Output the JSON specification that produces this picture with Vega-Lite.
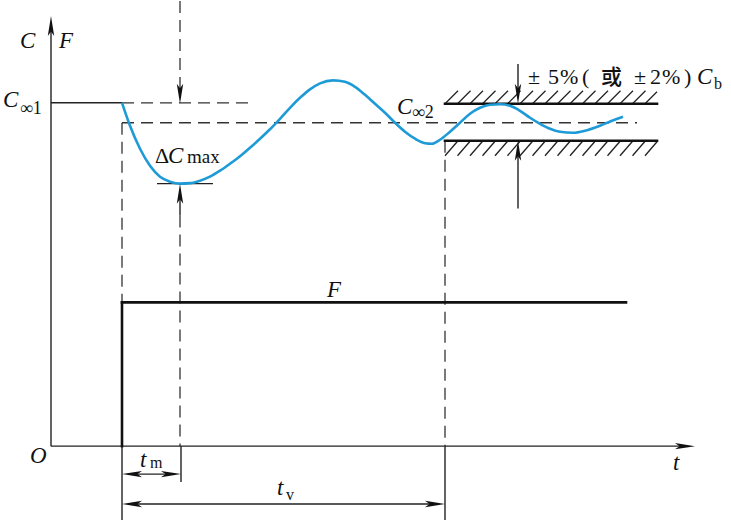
{
"$schema":"https://vega.github.io/schema/vega-lite/v6.json",
"width":731,"height":523,
"autosize":{"type":"fit","contains":"padding"},
"padding":0,
"background":"white",
"config":{"view":{"stroke":null}},
"datasets":{
"solid":[
{"x":51,"y":446,"x2":51,"y2":24},
{"x":51,"y":446,"x2":683,"y2":446},
{"x":51,"y":102,"x2":122,"y2":102},
{"x":157,"y":183,"x2":213,"y2":183},
{"x":180,"y":195,"x2":180,"y2":215},
{"x":518,"y":63,"x2":518,"y2":93},
{"x":518,"y":150,"x2":518,"y2":208},
{"x":122,"y":446,"x2":122,"y2":520},
{"x":181,"y":446,"x2":181,"y2":482},
{"x":445,"y":446,"x2":445,"y2":520},
{"x":130,"y":474,"x2":173,"y2":474},
{"x":130,"y":504,"x2":437,"y2":504}
],
"hatch":[
{"x":445,"y":103,"x2":458,"y2":90},{"x":457.5,"y":103,"x2":470.5,"y2":90},{"x":470,"y":103,"x2":483,"y2":90},{"x":482.5,"y":103,"x2":495.5,"y2":90},{"x":495,"y":103,"x2":508,"y2":90},{"x":507.5,"y":103,"x2":520.5,"y2":90},{"x":520,"y":103,"x2":533,"y2":90},{"x":532.5,"y":103,"x2":545.5,"y2":90},{"x":545,"y":103,"x2":558,"y2":90},{"x":557.5,"y":103,"x2":570.5,"y2":90},{"x":570,"y":103,"x2":583,"y2":90},{"x":582.5,"y":103,"x2":595.5,"y2":90},{"x":595,"y":103,"x2":608,"y2":90},{"x":607.5,"y":103,"x2":620.5,"y2":90},{"x":620,"y":103,"x2":633,"y2":90},{"x":632.5,"y":103,"x2":645.5,"y2":90},{"x":645,"y":103,"x2":657,"y2":91},
{"x":445,"y":155,"x2":458,"y2":140},{"x":457.5,"y":155,"x2":470.5,"y2":140},{"x":470,"y":155,"x2":483,"y2":140},{"x":482.5,"y":155,"x2":495.5,"y2":140},{"x":495,"y":155,"x2":508,"y2":140},{"x":507.5,"y":155,"x2":520.5,"y2":140},{"x":520,"y":155,"x2":533,"y2":140},{"x":532.5,"y":155,"x2":545.5,"y2":140},{"x":545,"y":155,"x2":558,"y2":140},{"x":557.5,"y":155,"x2":570.5,"y2":140},{"x":570,"y":155,"x2":583,"y2":140},{"x":582.5,"y":155,"x2":595.5,"y2":140},{"x":595,"y":155,"x2":608,"y2":140},{"x":607.5,"y":155,"x2":620.5,"y2":140},{"x":620,"y":155,"x2":633,"y2":140},{"x":632.5,"y":155,"x2":645.5,"y2":140},{"x":645,"y":155,"x2":657,"y2":141}
],
"thick":[
{"x":122,"y":446,"x2":122,"y2":302},
{"x":122,"y":302,"x2":626,"y2":302},
{"x":445,"y":103,"x2":657,"y2":103},
{"x":445,"y":140,"x2":657,"y2":140}
],
"dashed":[
{"x":122,"y":102,"x2":250,"y2":102},
{"x":180,"y":0,"x2":180,"y2":88},
{"x":122,"y":122,"x2":637,"y2":122},
{"x":122,"y":122,"x2":122,"y2":446},
{"x":180,"y":215,"x2":180,"y2":446},
{"x":445,"y":140,"x2":445,"y2":446}
],
"arrows":[
{"x":51,"y":15,"dir":"up"},
{"x":695,"y":446,"dir":"right"},
{"x":180,"y":103,"dir":"down"},
{"x":180,"y":183,"dir":"up"},
{"x":518,"y":103,"dir":"down"},
{"x":518,"y":140,"dir":"up"},
{"x":122,"y":474,"dir":"left"},
{"x":181,"y":474,"dir":"right"},
{"x":122,"y":504,"dir":"left"},
{"x":445,"y":504,"dir":"right"}
],
"curve":[
{"x":122,"y":102},{"x":130,"y":125},{"x":140,"y":148},{"x":150,"y":165},{"x":160,"y":176},{"x":170,"y":181},{"x":180,"y":183},{"x":190,"y":182.5},{"x":200,"y":180},{"x":210,"y":176},{"x":220,"y":170},{"x":230,"y":163},{"x":240,"y":155.5},{"x":250,"y":147},{"x":260,"y":138},{"x":270,"y":128.5},{"x":280,"y":118},{"x":290,"y":107},{"x":300,"y":97},{"x":310,"y":88.5},{"x":320,"y":82.5},{"x":333,"y":79.5},{"x":345,"y":81},{"x":355,"y":86},{"x":365,"y":94},{"x":375,"y":103},{"x":385,"y":112},{"x":395,"y":122},{"x":405,"y":131},{"x":415,"y":138},{"x":425,"y":142.5},{"x":432,"y":143},{"x":440,"y":139},{"x":450,"y":131},{"x":460,"y":122},{"x":470,"y":113},{"x":480,"y":107},{"x":490,"y":104},{"x":500,"y":103.5},{"x":510,"y":105},{"x":520,"y":110},{"x":530,"y":117},{"x":540,"y":123},{"x":550,"y":128},{"x":560,"y":131},{"x":573,"y":132},{"x":585,"y":130},{"x":600,"y":125},{"x":612,"y":120},{"x":623,"y":116}
],
"labels":[
{"x":20,"y":47,"text":"C","kind":"sym"},
{"x":59,"y":47,"text":"F","kind":"sym"},
{"x":3,"y":106,"text":"C","kind":"sym"},
{"x":20,"y":113,"text":"∞1","kind":"inf"},
{"x":155,"y":162,"text":"Δ","kind":"rom"},
{"x":168,"y":162,"text":"C","kind":"sym"},
{"x":187,"y":162,"text":"max","kind":"mid"},
{"x":397,"y":113,"text":"C","kind":"sym"},
{"x":412,"y":117,"text":"∞2","kind":"inf"},
{"x":528,"y":83,"text":"±","kind":"rom"},
{"x":548,"y":83,"text":"5","kind":"rom"},
{"x":560,"y":83,"text":"%","kind":"rom"},
{"x":582,"y":83,"text":"(","kind":"rom"},
{"x":601,"y":83,"text":"或","kind":"cjk"},
{"x":634,"y":83,"text":"±","kind":"rom"},
{"x":650,"y":83,"text":"2","kind":"rom"},
{"x":662,"y":83,"text":"%","kind":"rom"},
{"x":684,"y":83,"text":")","kind":"rom"},
{"x":697,"y":83,"text":"C","kind":"sym"},
{"x":714,"y":88,"text":"b","kind":"sub"},
{"x":327,"y":297,"text":"F","kind":"sym"},
{"x":140,"y":467,"text":"t","kind":"sym"},
{"x":150,"y":468,"text":"m","kind":"sub"},
{"x":277,"y":495,"text":"t","kind":"sym"},
{"x":286,"y":500,"text":"v","kind":"sub"},
{"x":673,"y":470,"text":"t","kind":"sym"},
{"x":30,"y":463,"text":"O","kind":"sym"}
]
},
"encoding":{
"x":{"field":"x","type":"quantitative","scale":{"domain":[0,731],"nice":false,"zero":false},"axis":null},
"y":{"field":"y","type":"quantitative","scale":{"domain":[0,523],"nice":false,"zero":false,"reverse":true},"axis":null}
},
"layer":[
{"data":{"name":"dashed"},"mark":{"type":"rule","stroke":"#333","strokeWidth":1.3,"strokeDash":[12,7]},"encoding":{"x2":{"field":"x2"},"y2":{"field":"y2"}}},
{"data":{"name":"solid"},"mark":{"type":"rule","stroke":"#222","strokeWidth":1.4},"encoding":{"x2":{"field":"x2"},"y2":{"field":"y2"}}},
{"data":{"name":"hatch"},"mark":{"type":"rule","stroke":"#222","strokeWidth":1.3},"encoding":{"x2":{"field":"x2"},"y2":{"field":"y2"}}},
{"data":{"name":"thick"},"mark":{"type":"rule","stroke":"#111","strokeWidth":2.6,"strokeCap":"square"},"encoding":{"x2":{"field":"x2"},"y2":{"field":"y2"}}},
{"data":{"name":"curve"},"mark":{"type":"line","color":"#1E9BD7","strokeWidth":2.6,"interpolate":"monotone"}},
{"data":{"name":"arrows"},"transform":[{"filter":"datum.dir==='up'"}],"mark":{"type":"point","shape":"M0,0L0.32,2L0,1.55L-0.32,2Z","filled":true,"size":400,"color":"#111","opacity":1,"strokeWidth":0}},
{"data":{"name":"arrows"},"transform":[{"filter":"datum.dir==='down'"}],"mark":{"type":"point","shape":"M0,0L0.32,-2L0,-1.55L-0.32,-2Z","filled":true,"size":400,"color":"#111","opacity":1,"strokeWidth":0}},
{"data":{"name":"arrows"},"transform":[{"filter":"datum.dir==='right'"}],"mark":{"type":"point","shape":"M0,0L-2,0.32L-1.55,0L-2,-0.32Z","filled":true,"size":400,"color":"#111","opacity":1,"strokeWidth":0}},
{"data":{"name":"arrows"},"transform":[{"filter":"datum.dir==='left'"}],"mark":{"type":"point","shape":"M0,0L2,0.32L1.55,0L2,-0.32Z","filled":true,"size":400,"color":"#111","opacity":1,"strokeWidth":0}},
{"data":{"name":"labels"},"transform":[{"filter":"datum.kind==='sym'"}],"mark":{"type":"text","font":"Liberation Serif","fontSize":23,"fontStyle":"italic","align":"left","baseline":"alphabetic","color":"#111"},"encoding":{"text":{"field":"text"}}},
{"data":{"name":"labels"},"transform":[{"filter":"datum.kind==='rom'"}],"mark":{"type":"text","font":"Liberation Serif","fontSize":22,"align":"left","baseline":"alphabetic","color":"#111"},"encoding":{"text":{"field":"text"}}},
{"data":{"name":"labels"},"transform":[{"filter":"datum.kind==='cjk'"}],"mark":{"type":"text","font":"Noto Sans CJK SC","fontSize":21,"fontWeight":500,"align":"left","baseline":"alphabetic","color":"#111"},"encoding":{"text":{"field":"text"}}},
{"data":{"name":"labels"},"transform":[{"filter":"datum.kind==='mid'"}],"mark":{"type":"text","font":"Liberation Serif","fontSize":19,"align":"left","baseline":"alphabetic","color":"#111"},"encoding":{"text":{"field":"text"}}},
{"data":{"name":"labels"},"transform":[{"filter":"datum.kind==='inf'"}],"mark":{"type":"text","font":"Liberation Serif","fontSize":18,"align":"left","baseline":"alphabetic","color":"#111"},"encoding":{"text":{"field":"text"}}},
{"data":{"name":"labels"},"transform":[{"filter":"datum.kind==='sub'"}],"mark":{"type":"text","font":"Liberation Serif","fontSize":16,"align":"left","baseline":"alphabetic","color":"#111"},"encoding":{"text":{"field":"text"}}}
]
}
